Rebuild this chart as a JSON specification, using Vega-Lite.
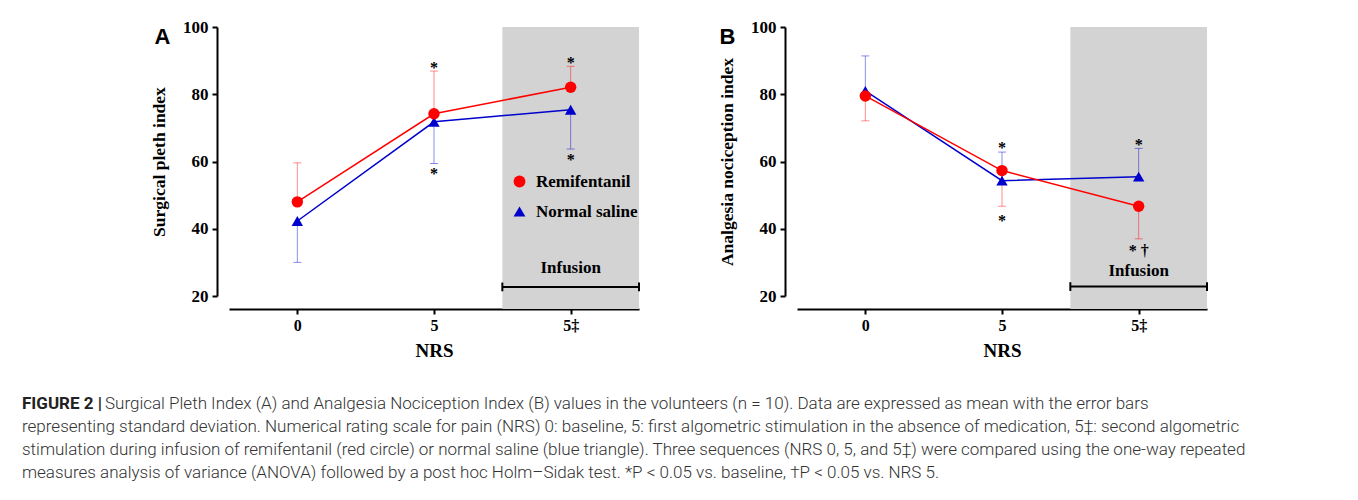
{
  "$schema": "https://vega.github.io/schema/vega-lite/v6.json",
  "background": "white",
  "padding": {"left": 22, "top": 18, "right": 0, "bottom": 0},
  "datasets": {
    "spi": [
      {"group": "Normal saline", "step": 0, "mean": 42.3, "end": 30.0},
      {"group": "Normal saline", "step": 1, "mean": 71.8, "end": 59.4},
      {"group": "Normal saline", "step": 2, "mean": 75.4, "end": 63.7},
      {"group": "Remifentanil", "step": 0, "mean": 48.0, "end": 59.6},
      {"group": "Remifentanil", "step": 1, "mean": 74.2, "end": 86.9},
      {"group": "Remifentanil", "step": 2, "mean": 82.1, "end": 88.3}
    ],
    "ani": [
      {"group": "Normal saline", "step": 0, "mean": 81.0, "end": 91.4},
      {"group": "Normal saline", "step": 1, "mean": 54.3, "end": 62.8},
      {"group": "Normal saline", "step": 2, "mean": 55.5, "end": 63.9},
      {"group": "Remifentanil", "step": 0, "mean": 79.5, "end": 72.1},
      {"group": "Remifentanil", "step": 1, "mean": 57.3, "end": 46.7},
      {"group": "Remifentanil", "step": 2, "mean": 46.7, "end": 37.0}
    ],
    "infusion": [
      {"label": "Infusion", "step": 2, "from": 1.5, "to": 2.5}
    ],
    "spiStars": [
      {"step": 1, "y": 88.7, "label": "*"},
      {"step": 1, "y": 57.3, "label": "*"},
      {"step": 2, "y": 90.2, "label": "*"},
      {"step": 2, "y": 61.4, "label": "*"}
    ],
    "aniStars": [
      {"step": 1, "y": 64.9, "label": "*"},
      {"step": 1, "y": 43.2, "label": "*"},
      {"step": 2, "y": 65.9, "label": "*"},
      {"step": 2, "y": 34.4, "label": "* †"}
    ],
    "caption": [
      {"line": 1, "part": "bold", "text": "FIGURE 2 |"},
      {"line": 1, "part": "first", "text": "Surgical Pleth Index (A) and Analgesia Nociception Index (B) values in the volunteers (n = 10). Data are expressed as mean with the error bars"},
      {"line": 2, "part": "rest", "text": "representing standard deviation. Numerical rating scale for pain (NRS) 0: baseline, 5: first algometric stimulation in the absence of medication, 5‡: second algometric"},
      {"line": 3, "part": "rest", "text": "stimulation during infusion of remifentanil (red circle) or normal saline (blue triangle). Three sequences (NRS 0, 5, and 5‡) were compared using the one-way repeated"},
      {"line": 4, "part": "rest", "text": "measures analysis of variance (ANOVA) followed by a post hoc Holm–Sidak test. *P < 0.05 vs. baseline, †P <  0.05 vs. NRS 5."}
    ]
  },
  "vconcat": [
    {
      "hconcat": [
        {
          "width": 410,
          "height": 269,
          "title": {"text": "A", "anchor": "start", "frame": "bounds", "font": "Liberation Sans", "fontSize": 22, "fontWeight": "bold", "color": "black", "baseline": "top", "offset": 0, "dx": 4, "dy": 31},
          "layer": [
            {"data": {"name": "infusion"}, "mark": {"type": "rect", "color": "#d3d3d3"},
              "encoding": {
                "x": {"field": "from", "type": "quantitative", "scale": {"domain": [-0.5, 2.5], "nice": false, "zero": false}, "axis": {"values": [0, 1, 2], "labelExpr": "datum.value == 0 ? '0' : datum.value == 1 ? '5' : '5‡'", "title": "NRS"}},
                "x2": {"field": "to"},
                "y": {"datum": 100, "type": "quantitative", "scale": {"domain": [20, 100], "nice": false, "zero": false}, "axis": {"values": [20, 40, 60, 80, 100], "title": "Surgical pleth index"}},
                "y2": {"datum": 16.1}}},
            {"data": {"name": "infusion"}, "mark": {"type": "rule", "color": "black", "strokeWidth": 2},
              "encoding": {"x": {"field": "from", "type": "quantitative"}, "x2": {"field": "to"}, "y": {"datum": 22.7, "type": "quantitative"}}},
            {"data": {"name": "infusion"}, "mark": {"type": "rule", "color": "black", "strokeWidth": 2},
              "encoding": {"x": {"field": "from", "type": "quantitative"}, "y": {"datum": 21.4, "type": "quantitative"}, "y2": {"datum": 24.0}}},
            {"data": {"name": "infusion"}, "mark": {"type": "rule", "color": "black", "strokeWidth": 2},
              "encoding": {"x": {"field": "to", "type": "quantitative"}, "y": {"datum": 21.4, "type": "quantitative"}, "y2": {"datum": 24.0}}},
            {"data": {"name": "infusion"}, "mark": {"type": "text", "font": "Liberation Serif", "fontWeight": "bold", "fontSize": 17, "color": "black", "baseline": "middle"},
              "encoding": {"x": {"field": "step", "type": "quantitative"}, "y": {"datum": 28.3, "type": "quantitative"}, "text": {"field": "label"}}},
            {"data": {"name": "spi"}, "mark": {"type": "rule", "strokeWidth": 1, "opacity": 0.45},
              "encoding": {"x": {"field": "step", "type": "quantitative"}, "y": {"field": "mean", "type": "quantitative"}, "y2": {"field": "end"},
                "color": {"condition": {"test": "datum.group == 'Remifentanil'", "value": "#ff0000"}, "value": "#0000cc"}}},
            {"data": {"name": "spi"}, "mark": {"type": "tick", "orient": "horizontal", "size": 8, "thickness": 1, "opacity": 0.45},
              "encoding": {"x": {"field": "step", "type": "quantitative"}, "y": {"field": "end", "type": "quantitative"},
                "color": {"condition": {"test": "datum.group == 'Remifentanil'", "value": "#ff0000"}, "value": "#0000cc"}}},
            {"data": {"name": "spi"}, "mark": {"type": "line", "strokeWidth": 1.5},
              "encoding": {"x": {"field": "step", "type": "quantitative"}, "y": {"field": "mean", "type": "quantitative"},
                "color": {"field": "group", "type": "nominal", "scale": {"domain": ["Remifentanil", "Normal saline"], "range": ["#ff0000", "#0000cc"]}}}},
            {"data": {"name": "spi"}, "mark": {"type": "point", "filled": true, "size": 130, "opacity": 1},
              "encoding": {"x": {"field": "step", "type": "quantitative"}, "y": {"field": "mean", "type": "quantitative"},
                "color": {"field": "group", "type": "nominal", "scale": {"domain": ["Remifentanil", "Normal saline"], "range": ["#ff0000", "#0000cc"]},
                  "legend": {"orient": "none", "legendX": 282, "legendY": 146, "title": null}},
                "shape": {"field": "group", "type": "nominal", "scale": {"domain": ["Remifentanil", "Normal saline"], "range": ["circle", "triangle-up"]},
                  "legend": {"orient": "none", "legendX": 282, "legendY": 146, "title": null}}}},
            {"data": {"name": "spiStars"}, "mark": {"type": "text", "font": "Liberation Serif", "fontWeight": "bold", "fontSize": 16, "color": "black", "baseline": "middle", "dy": 3},
              "encoding": {"x": {"field": "step", "type": "quantitative"}, "y": {"field": "y", "type": "quantitative"}, "text": {"field": "label"}}}
          ]
        },
        {
          "width": 410,
          "height": 269,
          "title": {"text": "B", "anchor": "start", "frame": "bounds", "font": "Liberation Sans", "fontSize": 22, "fontWeight": "bold", "color": "black", "baseline": "top", "offset": 0, "dx": 1, "dy": 31},
          "layer": [
            {"data": {"name": "infusion"}, "mark": {"type": "rect", "color": "#d3d3d3"},
              "encoding": {
                "x": {"field": "from", "type": "quantitative", "scale": {"domain": [-0.5, 2.5], "nice": false, "zero": false}, "axis": {"values": [0, 1, 2], "labelExpr": "datum.value == 0 ? '0' : datum.value == 1 ? '5' : '5‡'", "title": "NRS"}},
                "x2": {"field": "to"},
                "y": {"datum": 100, "type": "quantitative", "scale": {"domain": [20, 100], "nice": false, "zero": false}, "axis": {"values": [20, 40, 60, 80, 100], "title": "Analgesia nociception index"}},
                "y2": {"datum": 16.1}}},
            {"data": {"name": "infusion"}, "mark": {"type": "rule", "color": "black", "strokeWidth": 2},
              "encoding": {"x": {"field": "from", "type": "quantitative"}, "x2": {"field": "to"}, "y": {"datum": 22.8, "type": "quantitative"}}},
            {"data": {"name": "infusion"}, "mark": {"type": "rule", "color": "black", "strokeWidth": 2},
              "encoding": {"x": {"field": "from", "type": "quantitative"}, "y": {"datum": 21.5, "type": "quantitative"}, "y2": {"datum": 24.1}}},
            {"data": {"name": "infusion"}, "mark": {"type": "rule", "color": "black", "strokeWidth": 2},
              "encoding": {"x": {"field": "to", "type": "quantitative"}, "y": {"datum": 21.5, "type": "quantitative"}, "y2": {"datum": 24.1}}},
            {"data": {"name": "infusion"}, "mark": {"type": "text", "font": "Liberation Serif", "fontWeight": "bold", "fontSize": 17, "color": "black", "baseline": "middle"},
              "encoding": {"x": {"field": "step", "type": "quantitative"}, "y": {"datum": 27.4, "type": "quantitative"}, "text": {"field": "label"}}},
            {"data": {"name": "ani"}, "mark": {"type": "rule", "strokeWidth": 1, "opacity": 0.45},
              "encoding": {"x": {"field": "step", "type": "quantitative"}, "y": {"field": "mean", "type": "quantitative"}, "y2": {"field": "end"},
                "color": {"condition": {"test": "datum.group == 'Remifentanil'", "value": "#ff0000"}, "value": "#0000cc"}}},
            {"data": {"name": "ani"}, "mark": {"type": "tick", "orient": "horizontal", "size": 8, "thickness": 1, "opacity": 0.45},
              "encoding": {"x": {"field": "step", "type": "quantitative"}, "y": {"field": "end", "type": "quantitative"},
                "color": {"condition": {"test": "datum.group == 'Remifentanil'", "value": "#ff0000"}, "value": "#0000cc"}}},
            {"data": {"name": "ani"}, "mark": {"type": "line", "strokeWidth": 1.5},
              "encoding": {"x": {"field": "step", "type": "quantitative"}, "y": {"field": "mean", "type": "quantitative"},
                "detail": {"field": "group", "type": "nominal"},
                "color": {"condition": {"test": "datum.group == 'Remifentanil'", "value": "#ff0000"}, "value": "#0000cc"}}},
            {"data": {"name": "ani"}, "mark": {"type": "point", "filled": true, "size": 130, "opacity": 1},
              "encoding": {"x": {"field": "step", "type": "quantitative"}, "y": {"field": "mean", "type": "quantitative"},
                "color": {"condition": {"test": "datum.group == 'Remifentanil'", "value": "#ff0000"}, "value": "#0000cc"},
                "shape": {"field": "group", "type": "nominal", "scale": {"domain": ["Remifentanil", "Normal saline"], "range": ["circle", "triangle-up"]}, "legend": null}}},
            {"data": {"name": "aniStars"}, "mark": {"type": "text", "font": "Liberation Serif", "fontWeight": "bold", "fontSize": 16, "color": "black", "baseline": "middle", "dy": 3},
              "encoding": {"x": {"field": "step", "type": "quantitative"}, "y": {"field": "y", "type": "quantitative"}, "text": {"field": "label"}}}
          ]
        }
      ],
      "spacing": 158,
      "bounds": "flush",
      "resolve": {"scale": {"color": "independent", "shape": "independent"}, "legend": {"color": "independent", "shape": "independent"}}
    },
    {
      "width": 1000,
      "height": 69,
      "data": {"name": "caption"},
      "encoding": {
        "x": {"value": 0},
        "y": {"field": "line", "type": "quantitative", "scale": {"domain": [1, 4], "reverse": true}, "axis": null},
        "text": {"field": "text"}
      },
      "layer": [
        {"transform": [{"filter": "datum.part == 'bold'"}],
          "mark": {"type": "text", "align": "left", "baseline": "middle", "font": "Roboto", "fontWeight": "bold", "fontSize": 17, "color": "#222222", "dx": -207}},
        {"transform": [{"filter": "datum.part == 'first'"}],
          "mark": {"type": "text", "align": "left", "baseline": "middle", "font": "Roboto", "fontWeight": 300, "fontSize": 17, "color": "#333333", "dx": -124}},
        {"transform": [{"filter": "datum.part == 'rest'"}],
          "mark": {"type": "text", "align": "left", "baseline": "middle", "font": "Roboto", "fontWeight": 300, "fontSize": 17, "color": "#333333", "dx": -207}}
      ]
    }
  ],
  "spacing": 35,
  "config": {
    "view": {"stroke": null},
    "axis": {"grid": false, "domainColor": "black", "domainWidth": 2, "tickColor": "black", "tickWidth": 2, "tickSize": 5,
      "labelFont": "Liberation Serif", "labelFontWeight": "bold", "labelFontSize": 16, "labelColor": "black",
      "titleFont": "Liberation Serif", "titleFontWeight": "bold", "titleColor": "black"},
    "axisX": {"titleFontSize": 19, "labelPadding": 3, "titlePadding": 8, "offset": 13},
    "axisY": {"titleFontSize": 17.5, "labelFontSize": 17, "labelPadding": 4, "titlePadding": 14, "offset": 12},
    "legend": {"labelFont": "Liberation Serif", "labelFontWeight": "bold", "labelFontSize": 17, "labelColor": "black", "symbolSize": 140, "rowPadding": 12, "labelOffset": 8, "symbolStrokeWidth": 0, "padding": 0}
  }
}
